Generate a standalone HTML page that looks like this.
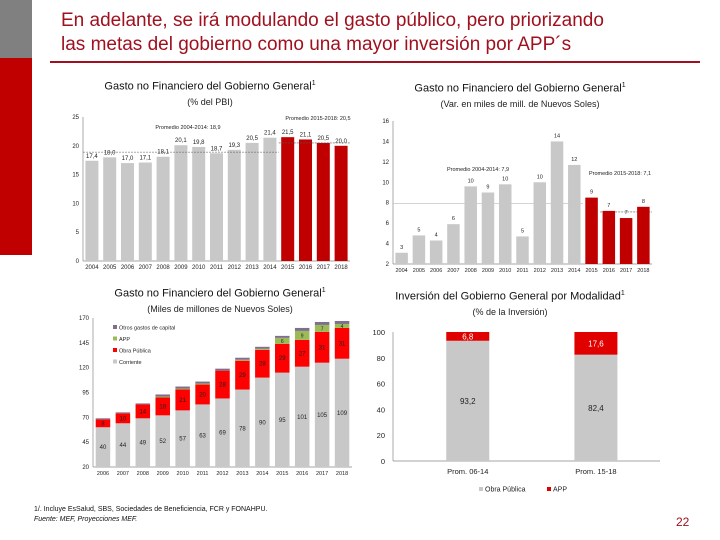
<!DOCTYPE html>
<html><head><meta charset="utf-8"><style>
body{margin:0;width:720px;height:540px;overflow:hidden;background:#fff;font-family:"Liberation Sans",sans-serif;position:relative}
.abs{position:absolute}
.t{font-size:11px;color:#111;text-align:center;white-space:nowrap}
.s{font-size:9px;color:#222;text-align:center;white-space:nowrap}
</style></head><body>
<div class="abs" style="left:0;top:0;width:32px;height:58px;background:#808080"></div>
<div class="abs" style="left:0;top:58px;width:32px;height:197px;background:#c00000"></div>
<div class="abs" style="left:61px;top:9px;font-size:19px;line-height:24px;color:#a0101e;">En adelante, se irá modulando el gasto público, pero priorizando<br>las metas del gobierno como una mayor inversión por APP´s</div>
<div class="abs" style="left:50px;top:61px;width:650px;height:2px;background:#a0101e"></div>

<div class="abs t" style="left:60px;width:300px;top:80px">Gasto no Financiero del Gobierno General<sup style="font-size:7px">1</sup></div>
<div class="abs s" style="left:60px;width:300px;top:97px">(% del PBI)</div>
<div class="abs t" style="left:370px;width:300px;top:82px">Gasto no Financiero del Gobierno General<sup style="font-size:7px">1</sup></div>
<div class="abs s" style="left:370px;width:300px;top:99px">(Var. en miles de mill. de Nuevos Soles)</div>
<div class="abs t" style="left:70px;width:300px;top:287px">Gasto no Financiero del Gobierno General<sup style="font-size:7px">1</sup></div>
<div class="abs s" style="left:70px;width:300px;top:304px">(Miles de millones de Nuevos Soles)</div>
<div class="abs t" style="left:360px;width:300px;top:290px">Inversión del Gobierno General por Modalidad<sup style="font-size:7px">1</sup></div>
<div class="abs s" style="left:360px;width:300px;top:307px">(% de la Inversión)</div>

<div class="abs" style="left:34px;top:505px;font-size:7px;color:#111;line-height:10px">1/. Incluye EsSalud, SBS, Sociedades de Beneficiencia, FCR y FONAHPU.<br><i>Fuente: MEF, Proyecciones MEF.</i></div>
<div class="abs" style="left:676px;top:515px;font-size:12px;color:#a0101e">22</div>

<svg class="abs" style="left:0;top:0" width="720" height="540" id="svg"></svg>
<script>
const years1 = ["2004","2005","2006","2007","2008","2009","2010","2011","2012","2013","2014","2015","2016","2017","2018"];
const pbi = [17.4,18.0,17.0,17.1,18.1,20.1,19.8,18.7,19.3,20.5,21.4,21.5,21.1,20.5,20.0];
const pbiLabels = ["17,4","18,0","17,0","17,1","18,1","20,1","19,8","18,7","19,3","20,5","21,4","21,5","21,1","20,5","20,0"];
const pbiTicks = [0,5,10,15,20,25];
const var2 = [3.1,4.8,4.3,5.9,9.6,9.0,9.8,4.7,10.0,14.0,11.7,8.5,7.2,6.5,7.6];
const var2Labels = ["3","5","4","6","10","9","10","5","10","14","12","9","7","7","8"];
const var2Ticks = [2,4,6,8,10,12,14,16];
const years3 = ["2006","2007","2008","2009","2010","2011","2012","2013","2014","2015","2016","2017","2018"];
const corriente = [40,44,49,52,57,63,69,78,90,95,101,105,109];
const obra = [8,10,14,18,21,20,28,29,28,29,27,31,31];
const app = [0,0,0,1,1,1,0,1,1,6,9,7,4];
const otros = [1,1,1,2,2,2,2,2,2,2,3,3,3];
const ticks3 = [20,45,70,95,120,145,170];
const cats4 = ["Prom. 06-14","Prom. 15-18"];
const obra4 = [93.2,82.4];
const app4 = [6.8,17.6];
const ticks4 = [0,20,40,60,80,100];

const svg=document.getElementById('svg');const NS='http://www.w3.org/2000/svg';
function el(tag,a,name,txt){const e=document.createElementNS(NS,tag);for(const k in a)e.setAttribute(k,a[k]);


if(txt!==undefined)e.textContent=txt;svg.appendChild(e);return e;}
function txt(x,y,s,name,size,anchor,fill){return el('text',{x:x,y:y,'font-size':size||6,'text-anchor':anchor||'middle',fill:fill||'#222','font-family':'Liberation Sans, sans-serif'},name,s);}

// Chart 1
(function(){const x0=83,x1=350,y0=261,yt=117,min=0,max=25;const Y=v=>y0-(v-min)/(max-min)*(y0-yt);
const pitch=(x1-x0)/years1.length,bw=13;
el('line',{x1:x0,y1:yt,x2:x0,y2:y0,stroke:'#888','stroke-width':0.7},'c1-y-axis');
el('line',{x1:x0,y1:y0,x2:x1,y2:y0,stroke:'#888','stroke-width':0.7},'c1-x-axis');
pbiTicks.forEach(t=>txt(x0-4,Y(t)+2,String(t),'c1-y-tick',6,'end'));
pbi.forEach((v,i)=>{const cx=x0+pitch*(i+0.5);
el('rect',{x:cx-bw/2,y:Y(v),width:bw,height:y0-Y(v),fill:i>=11?'#c00000':'#c8c8c8'},'c1-bar-'+years1[i]);
txt(cx,Y(v)-3,pbiLabels[i],'c1-value-label',6);
txt(cx,y0+8,years1[i],'c1-x-label',6);});
const avgA=18.9,avgB=20.5;
el('line',{x1:x0,y1:Y(avgA),x2:x0+pitch*11,y2:Y(avgA),stroke:'#555','stroke-width':0.6,'stroke-dasharray':'2,1'},'c1-avg-line-2004-2014');
el('line',{x1:x0+pitch*11,y1:Y(avgB),x2:x1,y2:Y(avgB),stroke:'#555','stroke-width':0.6,'stroke-dasharray':'2,1'},'c1-avg-line-2015-2018');
txt(188,129,'Promedio 2004-2014: 18,9','c1-avg-label-a',5.5);
txt(318,120,'Promedio 2015-2018: 20,5','c1-avg-label-b',5.5);
})();

// Chart 2
(function(){const x0=393,x1=652,y0=264,yt=121,min=2,max=16;const Y=v=>y0-(v-min)/(max-min)*(y0-yt);
const pitch=(x1-x0)/years1.length,bw=12.5;
el('line',{x1:x0,y1:yt,x2:x0,y2:y0,stroke:'#888','stroke-width':0.7},'c2-y-axis');
el('line',{x1:x0,y1:y0,x2:x1,y2:y0,stroke:'#888','stroke-width':0.7},'c2-x-axis');
var2Ticks.forEach(t=>txt(x0-4,Y(t)+2,String(t),'c2-y-tick',6,'end'));
el('line',{x1:x0,y1:Y(7.9),x2:x0+pitch*11,y2:Y(7.9),stroke:'#bbb','stroke-width':0.6},'c2-avg-line-2004-2014');
el('line',{x1:x0+pitch*12,y1:Y(7.1),x2:x1,y2:Y(7.1),stroke:'#555','stroke-width':0.6,'stroke-dasharray':'2,1'},'c2-avg-line-2015-2018');
var2.forEach((v,i)=>{const cx=x0+pitch*(i+0.5);
el('rect',{x:cx-bw/2,y:Y(v),width:bw,height:y0-Y(v),fill:i>=11?'#c00000':'#c8c8c8'},'c2-bar-'+years1[i]);
txt(cx,Y(v)-4,var2Labels[i],'c2-value-label',5.5);
txt(cx,y0+8,years1[i],'c2-x-label',5.5);});
txt(478,171,'Promedio 2004-2014: 7,9','c2-avg-label-a',5.5);
txt(620,175,'Promedio 2015-2018: 7,1','c2-avg-label-b',5.5);
})();

// Chart 3
(function(){const x0=93,x1=352,y0=467,yt=318,min=20,max=170;const Y=v=>y0-(v-min)/(max-min)*(y0-yt);
const pitch=(x1-x0)/years3.length,bw=14.5;
el('line',{x1:x0,y1:yt,x2:x0,y2:y0,stroke:'#888','stroke-width':0.7},'c3-y-axis');
el('line',{x1:x0,y1:y0,x2:x1,y2:y0,stroke:'#888','stroke-width':0.7},'c3-x-axis');
ticks3.forEach(t=>txt(x0-4,Y(t)+2,String(t),'c3-y-tick',6,'end'));
const series=[[corriente,'#c8c8c8','corriente','#222'],[obra,'#ff0000','obra-publica','#222'],[app,'#9bbb59','app','#222'],[otros,'#7f6f8f','otros-gastos','#222']];
years3.forEach((yr,i)=>{const cx=x0+pitch*(i+0.5);let acc=min;
series.forEach(([arr,col,nm])=>{const v=arr[i];const top=acc+v;
if(v>0){el('rect',{x:cx-bw/2,y:Y(top),width:bw,height:Y(acc)-Y(top),fill:col},'c3-bar-'+nm+'-'+yr);
if(nm==='corriente'||nm==='obra-publica')txt(cx,(Y(acc)+Y(top))/2+2,String(v),'c3-value-label',6);
else if(nm==='app'&&v>=4)txt(cx,(Y(acc)+Y(top))/2+2,String(v),'c3-value-label',5);}
acc=top;});
txt(cx,y0+8,yr,'c3-x-label',5.5);});
const leg=[['Otros gastos de capital','#7f6f8f'],['APP','#9bbb59'],['Obra Pública','#ff0000'],['Corriente','#c8c8c8']];
leg.forEach(([l,c],k)=>{el('rect',{x:113,y:325+k*11.5,width:4,height:4,fill:c},'c3-legend-swatch');txt(119,329.5+k*11.5,l,'c3-legend-label',5.5,'start');});
})();

// Chart 4
(function(){const x0=393,x1=660,y0=461,yt=332,min=0,max=100;const Y=v=>y0-(v-min)/(max-min)*(y0-yt);
const centers=[x0+(x1-x0)*0.28,x0+(x1-x0)*0.76],bw=43;
el('line',{x1:x0,y1:yt,x2:x0,y2:y0,stroke:'#888','stroke-width':0.7},'c4-y-axis');
el('line',{x1:x0,y1:y0,x2:x1,y2:y0,stroke:'#888','stroke-width':0.7},'c4-x-axis');
ticks4.forEach(t=>txt(x0-8,Y(t)+3,String(t),'c4-y-tick',7.5,'end'));
cats4.forEach((c,i)=>{const cx=centers[i];
el('rect',{x:cx-bw/2,y:Y(obra4[i]),width:bw,height:y0-Y(obra4[i]),fill:'#c8c8c8'},'c4-bar-obra-publica');
el('rect',{x:cx-bw/2,y:Y(obra4[i]+app4[i]),width:bw,height:Y(obra4[i])-Y(obra4[i]+app4[i]),fill:'#e00000'},'c4-bar-app');
txt(cx,Y(obra4[i]/2)+3,String(obra4[i]).replace('.',','),'c4-value-obra',8);
txt(cx,Y(obra4[i]+app4[i]/2)+3,String(app4[i]).replace('.',','),'c4-value-app',8,'middle','#fff');
txt(cx,y0+13,c,'c4-x-label',7.5);});
el('rect',{x:479,y:487,width:4,height:4,fill:'#c8c8c8'},'c4-legend-swatch-obra');
txt(485,491.5,'Obra Pública','c4-legend-obra',7,'start');
el('rect',{x:547,y:487,width:4,height:4,fill:'#e00000'},'c4-legend-swatch-app');
txt(553,491.5,'APP','c4-legend-app',7,'start');
})();
</script>
</body></html>
